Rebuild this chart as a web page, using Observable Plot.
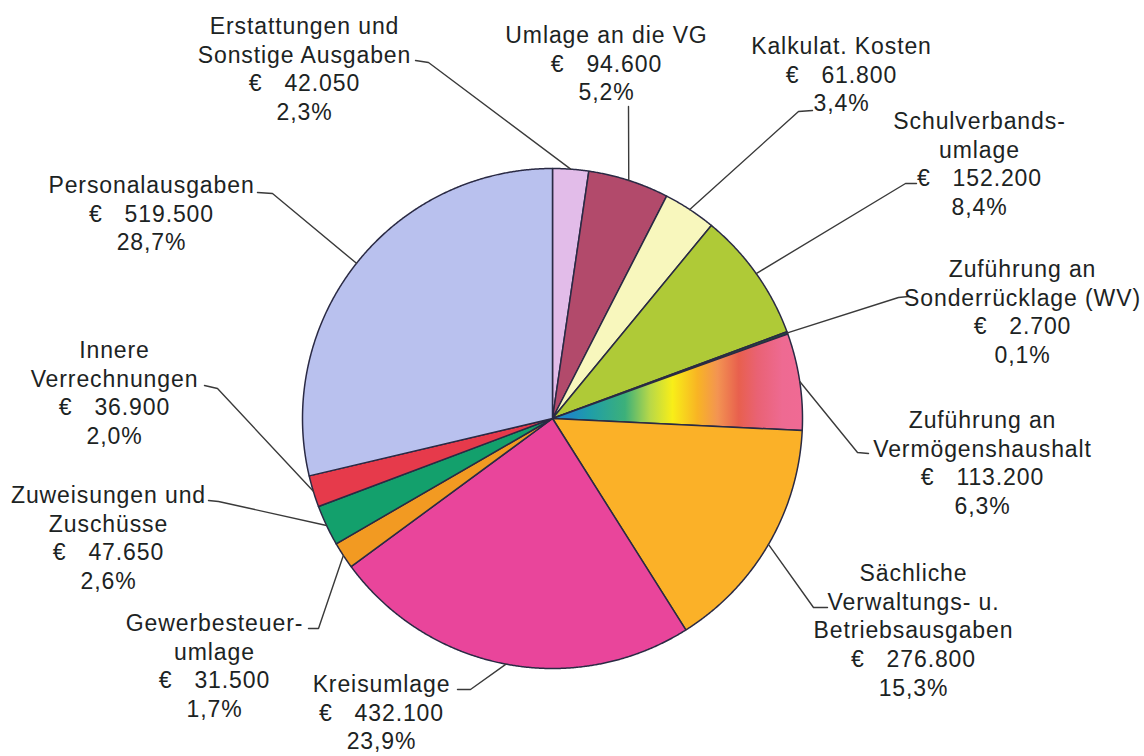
<!DOCTYPE html>
<html><head><meta charset="utf-8">
<script src="https://cdn.jsdelivr.net/npm/d3@7"></script>
<script src="https://cdn.jsdelivr.net/npm/@observablehq/plot@0.6"></script>
<style>
html,body{margin:0;padding:0;background:#fff;}
#chart svg text{letter-spacing:0.9px;font-family:"Liberation Sans",Arial,sans-serif !important;}
</style></head><body><div id="chart"></div>
<script>
// ---- data (clockwise from 12 o'clock) ----
const categories = ["Erstattungen und\nSonstige Ausgaben", "Umlage an die VG", "Kalkulat. Kosten", "Schulverbands-\numlage", "Zuführung an\nSonderrücklage (WV)", "Zuführung an\nVermögenshaushalt", "Sächliche\nVerwaltungs- u.\nBetriebsausgaben", "Kreisumlage", "Gewerbesteuer-\numlage", "Zuweisungen und\nZuschüsse", "Innere\nVerrechnungen", "Personalausgaben"];
const amounts = [42050, 94600, 61800, 152200, 2700, 113200, 276800, 432100, 31500, 47650, 36900, 519500];
const percents = [2.3, 5.2, 3.4, 8.4, 0.1, 6.3, 15.3, 23.9, 1.7, 2.6, 2.0, 28.7];

// ---- styles / layout ----
const sliceColors = ["#e2bce9", "#b24a6b", "#f8f7bd", "#afca37", "#1d5a3a", "url(#rainbow)", "#fbb128", "#e9459b", "#f29a22", "#13a06c", "#e63a4b", "#b9c1ee"];
const pieCenter = [552, 418], pieRadius = 250;
const labelPos = [[304,33],[606,42],[841,53],[979,128],[1022,276],[982,427],[913,580],[381,691],[214,630],[108,502],[114,357],[151,192]];
const leaderBends = [
  [[428,62],[415,60]], [[628,106],[628,106]], [[798,111],[812,110]], [[905,183],[916,183]],
  [[898,297],[908,296]], [[857,452],[868,453]], [[813,607],[827,607]], [[470,689],[457,689]],
  [[318,628],[308,628]], [[218,501],[208,500]], [[217,388],[204,385]], [[272,193],[257,192]]
];
const rainbowStops = [[0,"#1e86c6"],[0.07,"#1e88c4"],[0.15,"#1f9ea8"],[0.29,"#3cb07a"],[0.39,"#b8d848"],[0.48,"#f8ee18"],[0.58,"#f8b424"],[0.66,"#f39452"],[0.745,"#e8604e"],[0.82,"#e96274"],[0.92,"#ee6a92"],[1,"#f06a94"]];

const loc = d3.formatLocale({decimal: ",", thousands: ".", grouping: [3], currency: ["€", ""]});
const fmtAmt = loc.format(",d"), fmtPct = loc.format(".1f");

const arcs = d3.pie().sort(null).value(d => d)(amounts);
const [cx, cy] = pieCenter;
const pt = a => [cx + pieRadius * Math.sin(a), cy - pieRadius * Math.cos(a)];

const slicePts = [];
arcs.forEach((a, i) => {
  const name = categories[i], fill = sliceColors[i];
  slicePts.push({name, fill, x: cx, y: cy});
  const n = Math.max(2, Math.ceil((a.endAngle - a.startAngle) / (Math.PI / 720)));
  for (let k = 0; k <= n; k++) {
    const [x, y] = pt(a.startAngle + (a.endAngle - a.startAngle) * k / n);
    slicePts.push({name, fill, x, y});
  }
  slicePts.push({name, fill, x: cx, y: cy});
});

const leaderPts = [];
arcs.forEach((a, i) => {
  const [x, y] = pt((a.startAngle + a.endAngle) / 2);
  leaderPts.push({name: categories[i], x, y});
  leaderBends[i].forEach(([bx, by]) => leaderPts.push({name: categories[i], x: bx, y: by}));
});

const labels = categories.map((c, i) => ({
  x: labelPos[i][0], y: labelPos[i][1],
  text: `${c}\n€\u00a0\u00a0\u00a0${fmtAmt(amounts[i])}\n${fmtPct(percents[i])}%`
}));

const defs = () => {
  const d = d3.create("svg:defs");
  const g = d.append("linearGradient").attr("id", "rainbow").attr("gradientUnits", "userSpaceOnUse")
    .attr("x1", cx).attr("y1", 0).attr("x2", cx + pieRadius).attr("y2", 0);
  rainbowStops.forEach(([o, c]) => g.append("stop").attr("offset", o).attr("stop-color", c));
  return d.node();
};

const chart = Plot.plot({
  width: 1144, height: 756, margin: 0,
  x: {domain: [0, 1144], range: [0, 1144], axis: null},
  y: {domain: [0, 756], range: [0, 756], axis: null},
  color: {type: "identity"},
  style: {fontFamily: "Liberation Sans, Arial, sans-serif", background: "#fff"},
  marks: [
    defs,
    Plot.line(slicePts, {x: "x", y: "y", z: "name", fill: "fill", stroke: "#2a2a44", strokeWidth: 1.5, strokeLinejoin: "round"}),
    Plot.line(leaderPts, {x: "x", y: "y", z: "name", stroke: "#3a3a3a", strokeWidth: 1.4}),
    Plot.text(labels, {x: "x", y: "y", text: "text", fontSize: 23, lineHeight: 1.25, lineAnchor: "top", dy: -20, textAnchor: "middle", fill: "#1c2323"})
  ]
});
document.getElementById("chart").append(chart);
</script></body></html>
